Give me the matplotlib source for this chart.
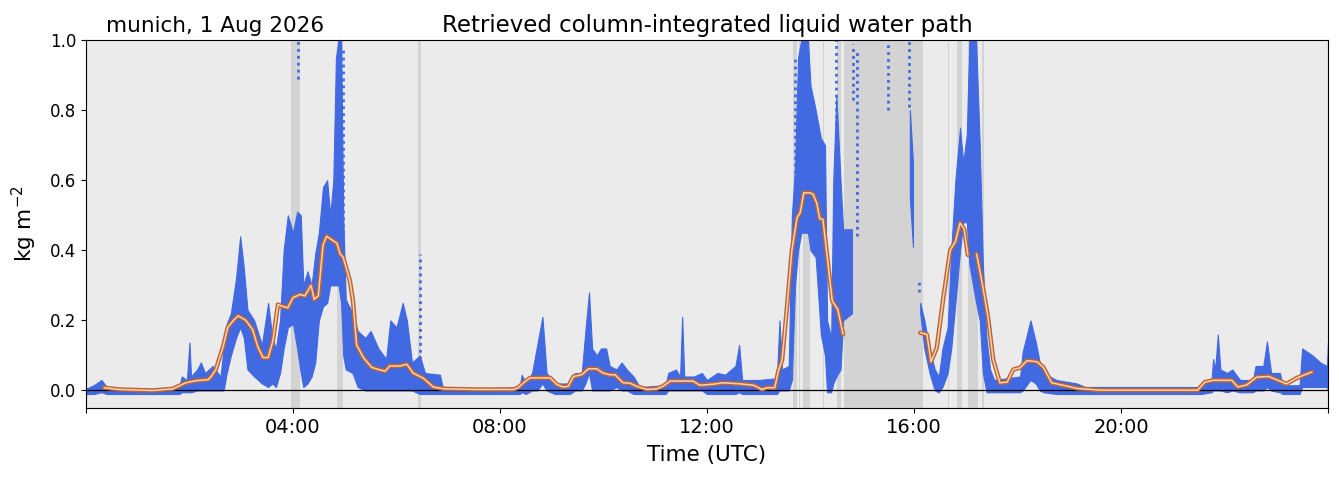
import numpy as np
import matplotlib
matplotlib.use('Agg')
import matplotlib.pyplot as plt

# dense LWP cloud: time (h UTC), lower / upper edge (kg m-2)
cloud_t = [0.00, 0.15, 0.30, 0.40, 0.60, 1.00, 1.50, 1.80, 1.85, 1.95, 2.00, 2.03, 2.15, 2.22, 2.30,
           2.45, 2.60, 2.66, 2.72, 2.80, 2.90, 2.98, 3.05, 3.12, 3.25, 3.40, 3.52, 3.60, 3.67, 3.75,
           3.82, 3.90, 4.00, 4.08, 4.15, 4.20, 4.28, 4.36, 4.43, 4.50, 4.58, 4.66, 4.72, 4.78, 4.83,
           4.88, 4.93, 4.97, 5.02, 5.15, 5.25, 5.40, 5.50, 5.65, 5.80, 5.88, 6.00, 6.12, 6.20, 6.30,
           6.45, 6.55, 6.84, 6.90, 7.50, 8.00, 8.38, 8.42, 8.50, 8.62, 8.72, 8.82, 8.90, 9.06, 9.35,
           9.45, 9.58, 9.65, 9.72, 9.78, 9.87, 9.95, 10.05, 10.12, 10.25, 10.35, 10.45, 10.58, 10.70,
           11.20, 11.25, 11.40, 11.48, 11.52, 11.56, 11.75, 11.90, 12.00, 12.20, 12.35, 12.55, 12.62,
           12.68, 13.00, 13.35, 13.40, 13.45, 13.58, 13.64, 13.70, 13.76, 13.82, 13.95, 14.00, 14.10,
           14.20, 14.28, 14.32, 14.40, 14.44, 14.50, 14.58, 14.63, 14.80]
cloud_lo = [-0.01, -0.01, -0.005, -0.01, -0.01, -0.01, -0.01, -0.01, -0.005, -0.005, -0.005, -0.005, 0.0, 0.0, 0.0,
            0.0, 0.0, 0.0, 0.05, 0.10, 0.15, 0.18, 0.15, 0.06, 0.04, 0.02, 0.01, 0.02, 0.01, 0.05,
            0.12, 0.18, 0.19, 0.12, 0.05, 0.01, 0.02, 0.04, 0.08, 0.20, 0.24, 0.25, 0.30, 0.30, 0.30,
            0.30, 0.25, 0.10, 0.06, 0.05, 0.01, 0.0, 0.0, 0.0, 0.0, 0.0, 0.0, 0.0, 0.0, 0.0,
            -0.01, -0.01, -0.01, -0.01, -0.01, -0.01, -0.01, -0.005, -0.01, 0.0, 0.0, 0.02, 0.0, -0.01, -0.01,
            0.0, 0.0, 0.02, 0.05, 0.0, 0.0, 0.0, 0.0, 0.0, 0.01, 0.0, 0.0, -0.01, -0.01,
            -0.01, 0.0, 0.0, 0.0, 0.0, 0.0, 0.0, 0.0, -0.01, -0.01, -0.01, -0.01, -0.005,
            -0.01, -0.01, -0.01, 0.0, 0.0, 0.0, 0.03, 0.30, 0.40, 0.45, 0.45, 0.40, 0.38,
            0.16, 0.10, -0.005, -0.005, 0.02, 0.04, 0.06, 0.20, 0.22]
cloud_hi = [0.005, 0.015, 0.03, 0.01, 0.005, 0.005, 0.005, 0.01, 0.04, 0.03, 0.137, 0.04, 0.06, 0.08, 0.05,
            0.07, 0.04, 0.12, 0.19, 0.22, 0.32, 0.44, 0.35, 0.23, 0.20, 0.13, 0.25, 0.15, 0.12, 0.20,
            0.40, 0.50, 0.45, 0.51, 0.50, 0.30, 0.34, 0.30, 0.39, 0.45, 0.58, 0.60, 0.50, 0.60, 0.95,
            1.00, 1.00, 0.50, 0.26, 0.22, 0.17, 0.15, 0.17, 0.12, 0.09, 0.20, 0.18, 0.25, 0.20, 0.08,
            0.10, 0.05, 0.045, 0.005, 0.005, 0.008, 0.01, 0.045, 0.02, 0.05, 0.13, 0.21, 0.05, 0.02, 0.02,
            0.05, 0.05, 0.17, 0.28, 0.12, 0.10, 0.12, 0.12, 0.07, 0.06, 0.08, 0.06, 0.04, 0.01,
            0.015, 0.05, 0.06, 0.04, 0.21, 0.04, 0.04, 0.05, 0.03, 0.05, 0.045, 0.07, 0.13,
            0.03, 0.03, 0.035, 0.20, 0.06, 0.07, 0.50, 0.63, 0.95, 1.00, 1.00, 0.87, 0.80,
            0.72, 0.70, 0.20, 0.15, 0.60, 0.84, 0.60, 0.46, 0.46]

cloud2_t = [15.92, 15.98]
cloud2_lo = [0.55, 0.41]
cloud2_hi = [0.80, 0.65]

cloud3_t = [16.12, 16.20, 16.30, 16.40, 16.48, 16.55, 16.65, 16.72, 16.80, 16.89, 16.95, 17.02, 17.07, 17.20,
            17.27, 17.33, 17.40, 17.47, 17.55, 18.05, 18.10, 18.25, 18.35, 18.43, 18.50, 18.75, 19.15,
            19.30, 21.50, 21.55, 21.75, 21.78, 21.82, 21.87, 21.92, 22.05, 22.15, 22.30, 22.55, 22.60,
            22.75, 22.82, 22.90, 23.07, 23.12, 23.45, 23.50, 23.70, 23.85, 23.98, 24.00]
cloud3_lo = [0.22, 0.12, 0.05, 0.0, -0.005, 0.01, 0.05, 0.12, 0.25, 0.40, 0.48, 0.48, 0.36, 0.25,
             0.20, 0.05, -0.005, -0.005, -0.005, -0.005, 0.0, 0.03, 0.02, 0.0, -0.005, -0.01, -0.01,
             -0.01, -0.01, -0.01, -0.005, 0.0, 0.0, 0.0, 0.0, -0.005, 0.0, -0.005, -0.005, 0.0,
             0.0, 0.01, 0.0, -0.005, -0.01, -0.01, 0.01, 0.01, 0.01, 0.01, 0.0]
cloud3_hi = [0.25, 0.20, 0.12, 0.06, 0.04, 0.12, 0.18, 0.40, 0.60, 0.75, 0.65, 0.73, 1.00, 1.00,
             0.70, 0.36, 0.15, 0.06, 0.03, 0.04, 0.11, 0.20, 0.14, 0.08, 0.05, 0.03, 0.02,
             0.01, 0.01, 0.02, 0.03, 0.09, 0.06, 0.16, 0.06, 0.05, 0.06, 0.03, 0.03, 0.07,
             0.07, 0.14, 0.05, 0.05, 0.015, 0.015, 0.12, 0.10, 0.08, 0.07, 0.14]

# sparse columns of single retrievals: time, lowest, highest
sparse_t = [4.10, 4.97, 6.45, 13.70, 14.50, 14.82, 14.90, 15.50, 15.90, 16.09]
sparse_lo = [0.89, 0.25, 0.05, 0.60, 0.50, 0.83, 0.44, 0.80, 0.81, 0.28]
sparse_hi = [1.00, 0.98, 0.39, 0.95, 1.00, 0.99, 0.97, 1.00, 1.00, 0.32]

# smoothed LWP (nan = gap)
smooth_t = [0.35, 0.64, 1.29, 1.68, 1.93, 2.12, 2.36, 2.42, 2.51, 2.65, 2.74, 2.85, 2.94, 3.09, 3.22,
            3.32, 3.42, 3.52, 3.61, 3.71, 3.80, 3.90, 4.00, 4.14, 4.23, 4.35, 4.41, 4.49, 4.58, 4.65,
            4.75, 4.85, 4.91, 4.97, 5.10, 5.16, 5.23, 5.36, 5.52, 5.65, 5.78, 5.87, 6.07, 6.20, 6.32,
            6.52, 6.71, 6.90, 7.50, 8.26, 8.35, 8.48, 8.58, 8.97, 9.10, 9.22, 9.32, 9.42, 9.58, 9.71,
            9.87, 9.99, 10.12, 10.22, 10.38, 10.51, 10.64, 10.84, 11.03, 11.15, 11.29, 11.48, 11.73,
            11.86, 12.12, 12.31, 12.64, 12.90, 13.06, 13.16, 13.31, 13.38, 13.45, 13.55, 13.64, 13.74,
            13.80, 13.87, 13.99, 14.05, 14.12, 14.18, 14.24, 14.32, 14.42, 14.53, 14.63, 15.40,
            16.12, 16.25, 16.33, 16.44, 16.57, 16.70, 16.80, 16.89, 16.97, 17.04, 17.12,
            17.21, 17.33, 17.43, 17.53, 17.66, 17.80, 17.92, 18.05, 18.18, 18.38, 18.50, 18.66, 18.88,
            19.15, 19.60, 21.48, 21.62, 21.78, 22.14, 22.26, 22.43, 22.62, 22.85, 23.07, 23.20, 23.40,
            23.69]
smooth_v = [0.008, 0.003, 0.0, 0.005, 0.022, 0.028, 0.031, 0.04, 0.06, 0.125, 0.18, 0.20, 0.213, 0.20, 0.174,
            0.125, 0.094, 0.094, 0.14, 0.245, 0.24, 0.236, 0.265, 0.274, 0.27, 0.30, 0.26, 0.27, 0.415, 0.44,
            0.43, 0.42, 0.39, 0.38, 0.313, 0.255, 0.13, 0.094, 0.066, 0.06, 0.055, 0.07, 0.07, 0.075, 0.05,
            0.035, 0.01, 0.005, 0.003, 0.003, 0.008, 0.025, 0.036, 0.036, 0.017, 0.01, 0.012, 0.04, 0.045, 0.062,
            0.062, 0.05, 0.045, 0.045, 0.022, 0.021, 0.012, 0.003, 0.005, 0.012, 0.027, 0.027, 0.027,
            0.015, 0.018, 0.022, 0.019, 0.015, 0.003, 0.008, 0.008, 0.057, 0.085, 0.245, 0.40, 0.493,
            0.507, 0.564, 0.564, 0.56, 0.535, 0.49, 0.488, 0.387, 0.256, 0.23, 0.16, np.nan,
            0.165, 0.16, 0.082, 0.122, 0.268, 0.40, 0.425, 0.478, 0.46, 0.387, np.nan,
            0.39, 0.296, 0.21, 0.088, 0.022, 0.024, 0.06, 0.065, 0.085, 0.082, 0.066, 0.022, 0.015,
            0.006, 0.001, 0.001, 0.024, 0.029, 0.029, 0.01, 0.016, 0.038, 0.04, 0.027, 0.019, 0.036,
            0.053]

# flagged periods (grey shading)
flag_start = [3.97, 4.86, 6.42, 13.66, 13.78, 13.86, 14.25, 14.51, 14.65, 16.65, 16.83, 17.05, 17.32]
flag_end = [4.13, 4.96, 6.47, 13.74, 13.80, 13.99, 14.27, 14.58, 16.17, 16.67, 16.93, 17.24, 17.35]

tick_hours = [0, 4, 8, 12, 16, 20, 24]
tick_labels = ['', '04:00', '08:00', '12:00', '16:00', '20:00', '']

blue = '#4169e1'

fig = plt.figure(figsize=(13.39, 4.78), dpi=100)
ax = fig.add_axes([0.0642, 0.1464, 0.9276, 0.7699])
ax.set_facecolor('#ebebeb')

for s, e in zip(flag_start, flag_end):
    ax.axvspan(s, e, color='#d3d3d3', lw=0, zorder=1)

for t, lo, hi in [(cloud_t, cloud_lo, cloud_hi), (cloud2_t, cloud2_lo, cloud2_hi),
                  (cloud3_t, cloud3_lo, cloud3_hi)]:
    ax.fill_between(t, lo, hi, color=blue, lw=0.8, edgecolor=blue, zorder=2)

ax.vlines(sparse_t, sparse_lo, sparse_hi, colors=blue, linestyles=(0, (1, 1.5)), lw=2, zorder=2)

ax.axhline(0, color='black', lw=0.9, zorder=3)

ax.plot(smooth_t, smooth_v, color='#bf6430', lw=3.2, zorder=4, solid_capstyle='round')
ax.plot(smooth_t, smooth_v, color='#f6d3b4', lw=1.1, zorder=5, solid_capstyle='round')

ax.set_xlim(0, 24)
ax.set_ylim(-0.05, 1.0)
ax.set_xticks(tick_hours)
ax.set_xticklabels(tick_labels, fontsize=14)
ax.set_yticks([0.0, 0.2, 0.4, 0.6, 0.8, 1.0])
ax.tick_params(axis='y', labelsize=12)
ax.set_xlabel('Time (UTC)', fontsize=15.5, labelpad=6)
ax.set_ylabel('kg m$^{-2}$', fontsize=15.5, labelpad=8)
ax.set_title('Retrieved column-integrated liquid water path', fontsize=16.5, pad=6)
ax.text(0.016, 1.012, 'munich, 1 Aug 2026', transform=ax.transAxes, fontsize=15.5,
        ha='left', va='bottom')

fig.savefig('out.png', dpi=100)
